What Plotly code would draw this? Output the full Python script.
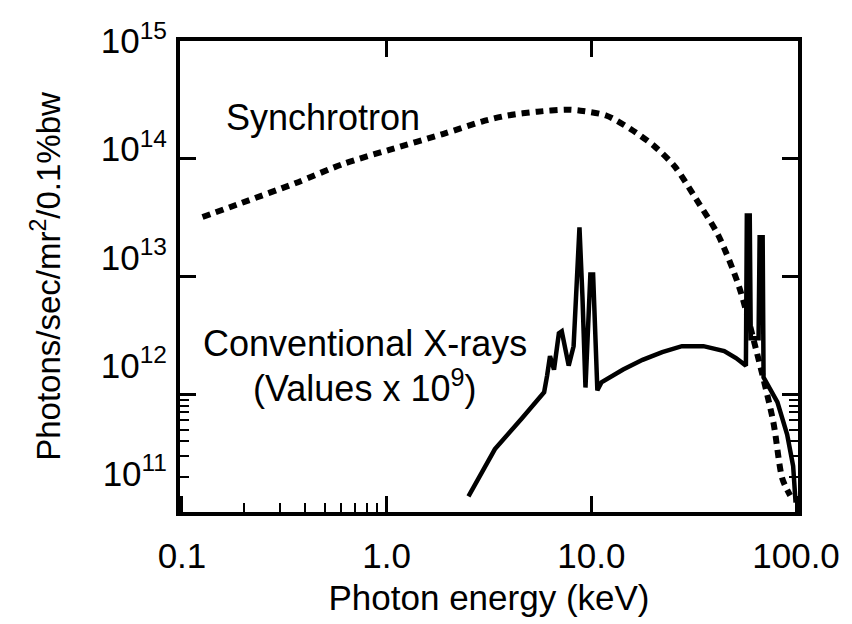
import plotly.graph_objects as go

# Synchrotron spectrum (dotted)
sync_energy_kev = [0.126, 0.196, 0.357, 0.62, 1.03, 1.88, 2.92, 3.90, 5.44, 7.59, 8.85,
                   11.8, 15.6, 20.3, 25.6, 32.7, 41.7, 52.6, 63.6, 77.4, 85.7, 93.6]
sync_flux = [3.2e13, 4.22e13, 6.19e13, 9.1e13, 1.19e14, 1.62e14, 2.07e14, 2.33e14, 2.51e14,
             2.61e14, 2.56e14, 2.33e14, 1.78e14, 1.28e14, 8.57e13, 4.47e13, 2.24e13,
             8.26e12, 2.45e12, 5.85e11, 1.92e11, 1.38e11]

# Conventional X-ray tube spectrum (values x 1e9, solid)
xray_energy_kev = [2.51, 3.38, 4.56, 5.88, 6.08, 6.28, 6.57, 6.94, 7.17, 7.75, 8.19, 8.75,
                   9.05, 9.36, 9.89, 10.2, 10.7, 11.2, 14.3, 17.8, 22.2, 27.7, 35.3, 44.6,
                   50.9, 56.9, 57.5, 59.4, 60.1, 65.6, 66.4, 68.7, 69.4, 81.1, 90.5, 96.8, 99.5]
xray_flux = [1.36e11, 3.42e11, 6.19e11, 1.04e12, 1.44e12, 2.11e12, 1.62e12, 3.29e12, 3.42e12,
             1.75e12, 2.56e12, 2.61e13, 6.68e12, 1.14e12, 1.04e13, 1.04e13, 1.08e12, 1.26e12,
             1.62e12, 1.96e12, 2.28e12, 2.56e12, 2.56e12, 2.33e12, 2.03e12, 1.75e12, 3.29e13,
             3.29e13, 2.99e12, 2.99e12, 2.15e13, 2.15e13, 1.39e12, 8.58e11, 4.55e11, 2.46e11,
             1.2e11]

x_tickvals = [0.1, 1, 10, 100]
x_ticktext = ["0.1", "1.0", "10.0", "100.0"]
x_minor = [0.2, 0.3, 0.4, 0.5, 0.6, 0.7, 0.8, 0.9]
y_tickvals = [1e11, 1e12, 1e13, 1e14, 1e15]
y_ticktext = ["10<sup>11</sup>", "10<sup>12</sup>", "10<sup>13</sup>", "10<sup>14</sup>", "10<sup>15</sup>"]
y_minor = [2e11, 3e11, 4e11, 5e11, 6e11, 7e11, 8e11, 9e11]

FONT = "Liberation Sans, Arial, Helvetica, sans-serif"
FS = 35
FS_ANN = 36
FS_YTITLE = 33

fig = go.Figure()
fig.add_trace(go.Scatter(
    x=sync_energy_kev, y=sync_flux, mode="lines",
    line=dict(color="black", width=6, dash="8px,6px", shape="spline", smoothing=0.8),
    hoverinfo="skip", showlegend=False))
fig.add_trace(go.Scatter(
    x=xray_energy_kev, y=xray_flux, mode="lines",
    line=dict(color="black", width=4.5),
    hoverinfo="skip", showlegend=False))
# invisible traces to activate the top tick axis and the left label axis
fig.add_trace(go.Scatter(
    x=[1], y=[1e12], xaxis="x2", yaxis="y", mode="markers",
    marker=dict(opacity=0), hoverinfo="skip", showlegend=False))
fig.add_trace(go.Scatter(
    x=[1], y=[1e12], xaxis="x", yaxis="y2", mode="markers",
    marker=dict(opacity=0), hoverinfo="skip", showlegend=False))

xr = [-1.0096, 2.0096]
fig.update_layout(
    width=852, height=624,
    margin=dict(l=180, r=44, t=41, b=102),
    paper_bgcolor="white", plot_bgcolor="white",
    font=dict(family=FONT, size=FS, color="black"),
    xaxis=dict(
        type="log", range=xr, tickvals=x_tickvals, ticktext=x_ticktext,
        ticks="inside", ticklen=16, tickwidth=2.5, tickcolor="black",
        showline=True, linewidth=4, linecolor="black", mirror=True,
        showgrid=False, zeroline=False, ticklabelstandoff=10,
        tickfont=dict(size=FS),
        minor=dict(tickvals=x_minor, ticks="inside", ticklen=9, tickwidth=2,
                   tickcolor="black", showgrid=False),
        title=dict(text="Photon energy (keV)", font=dict(size=FS), standoff=12),
    ),
    xaxis2=dict(
        type="log", range=xr, overlaying="x", side="top", anchor="y",
        tickvals=[1, 10], ticks="inside", ticklen=16, tickwidth=2.5, tickcolor="black",
        showticklabels=False, showline=False, showgrid=False, zeroline=False,
    ),
    yaxis=dict(
        type="log", range=[11, 15], tickvals=y_tickvals,
        ticks="inside", ticklen=16, tickwidth=2.5, tickcolor="black",
        showline=True, linewidth=4, linecolor="black", mirror="ticks",
        showgrid=False, zeroline=False, showticklabels=False,
        minor=dict(tickvals=y_minor, ticks="inside", ticklen=9, tickwidth=2,
                   tickcolor="black", showgrid=False),
    ),
    # label axis: the printed decade labels sit slightly higher than their ticks
    yaxis2=dict(
        type="log", range=[10.646, 15], overlaying="y", side="left", anchor="x",
        tickvals=y_tickvals, ticktext=y_ticktext, ticks="",
        showline=False, showgrid=False, zeroline=False, ticklabelstandoff=12,
        tickfont=dict(size=FS),
        title=dict(text="Photons/sec/mr<sup>2</sup>/0.1%bw", font=dict(size=FS_YTITLE), standoff=30),
    ),
    annotations=[
        dict(text="Synchrotron", xref="paper", yref="paper", x=0.231, y=0.8375,
             xanchor="center", yanchor="middle", showarrow=False, font=dict(size=FS_ANN)),
        dict(text="Conventional X-rays", xref="paper", yref="paper", x=0.299, y=0.358,
             xanchor="center", yanchor="middle", showarrow=False, font=dict(size=FS_ANN)),
        dict(text="(Values x 10<sup>9</sup>)", xref="paper", yref="paper", x=0.299, y=0.268,
             xanchor="center", yanchor="middle", showarrow=False, font=dict(size=FS_ANN)),
    ],
)

fig.write_html("out.html")
